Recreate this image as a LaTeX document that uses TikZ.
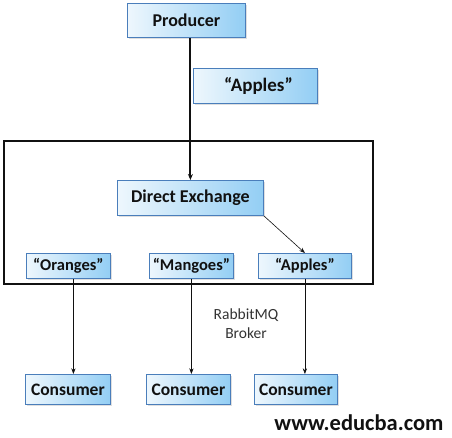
\documentclass[tikz,border=0pt]{standalone}
\usepackage{fontspec}
\setmainfont{Carlito}
\usetikzlibrary{arrows.meta,positioning,shadows}
\definecolor{boxline}{HTML}{4A7EBB}
\definecolor{boxlight}{HTML}{EEF7FD}
\definecolor{boxdeep}{HTML}{93CEF4}
\definecolor{ink}{HTML}{111111}
\definecolor{note}{HTML}{333333}

\begin{document}
\begin{tikzpicture}[x=1pt,y=-1pt,>=Stealth,
  msgbox/.style={draw=boxline,line width=0.8pt,left color=boxlight,right color=boxdeep,
    drop shadow={shadow xshift=1.5pt,shadow yshift=-1.5pt,opacity=0.25},
    font=\bfseries,text=ink,inner sep=0pt,anchor=north west},
  link/.style={->,ink,line width=0.6pt}]
\useasboundingbox (0,0) rectangle (452,437);
% producer and the message it sends
\node[msgbox,minimum width=118pt,minimum height=34pt,font=\bfseries\fontsize{18}{20}\selectfont] (prod) at (127,3) {Producer};
\node[msgbox,minimum width=124pt,minimum height=35pt,font=\bfseries\fontsize{19}{21}\selectfont] (msg) at (193,68) {\hspace*{6pt}“Apples”};
% broker frame
\draw[ink,line width=2pt] (4,141) rectangle (373,284);
\node[msgbox,minimum width=146pt,minimum height=35pt,font=\bfseries\fontsize{18}{20}\selectfont] (exch) at (117,180) {Direct Exchange};
\node[msgbox,minimum width=84pt,minimum height=25pt,font=\bfseries\fontsize{16.5}{18}\selectfont] (qo) at (26,253) {“Oranges”};
\node[msgbox,minimum width=84pt,minimum height=25pt,font=\bfseries\fontsize{16.5}{18}\selectfont] (qm) at (149,253) {“Mangoes”};
\node[msgbox,minimum width=93pt,minimum height=25pt,font=\bfseries\fontsize{16.5}{18}\selectfont] (qa) at (258,253) {“Apples”};
\node[text=note,align=center,font=\fontsize{15.5}{19}\selectfont] (broker) at (246,324) {RabbitMQ\\Broker};
% consumers
\node[msgbox,minimum width=85pt,minimum height=30pt,font=\bfseries\fontsize{17.5}{19}\selectfont] (c1) at (25,374) {Consumer};
\node[msgbox,minimum width=84pt,minimum height=30pt,font=\bfseries\fontsize{17.5}{19}\selectfont] (c2) at (146,374) {Consumer};
\node[msgbox,minimum width=83pt,minimum height=30pt,font=\bfseries\fontsize{17.5}{19}\selectfont] (c3) at (254,374) {Consumer};
% connectors
\draw[->,ink,line width=2pt,-{Stealth[length=6pt,width=5pt]}] (prod.south -| exch.north) -- (exch.north);
\draw[link] (exch.south east) -- (qa.north);
\draw[link] ([xshift=5pt]qo.south) -- ([xshift=5pt]qo.south |- c1.north);
\foreach \q/\c in {qm/c2,qa/c3}
  \draw[link] (\q.south) -- (\q.south |- \c.north);
\node[font=\bfseries\fontsize{22.5}{24}\selectfont,text=ink,anchor=east] (site) at (447,423) {www.educba.com};
\end{tikzpicture}
\end{document}
